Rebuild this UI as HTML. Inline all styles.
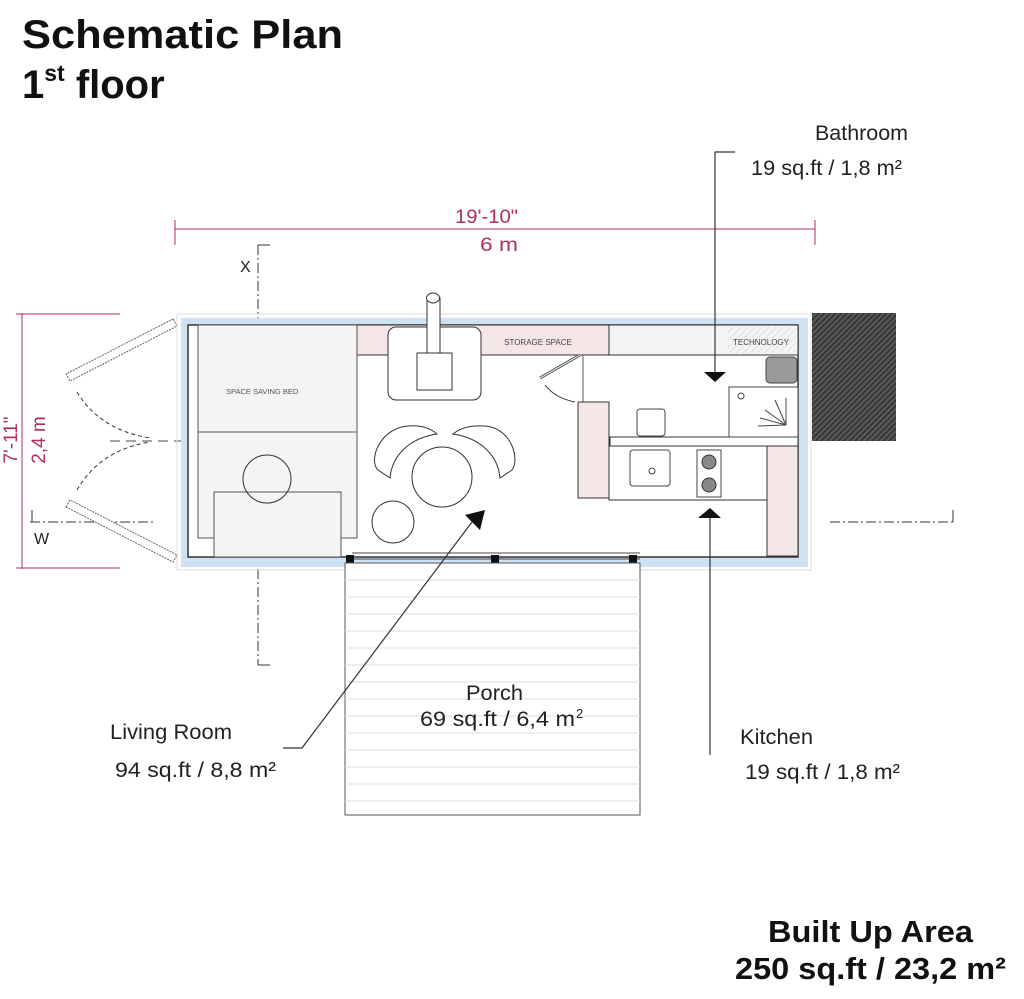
<!DOCTYPE html>
<html><head><style>
body{margin:0;background:#fff;}
svg{display:block;font-family:"Liberation Sans",Arial,sans-serif;}
</style></head><body>
<svg width="1024" height="999" viewBox="0 0 1024 999" xmlns="http://www.w3.org/2000/svg">
<defs>
<pattern id="h" width="4" height="4" patternUnits="userSpaceOnUse" patternTransform="rotate(45)"><rect width="4" height="4" fill="#555"/><line x1="0" y1="0" x2="0" y2="4" stroke="#222" stroke-width="2"/></pattern>
<pattern id="h2" width="5" height="5" patternUnits="userSpaceOnUse" patternTransform="rotate(45)"><line x1="0" y1="0" x2="0" y2="5" stroke="#ccc" stroke-width="1"/></pattern>
</defs>
<text x="22" y="48" font-size="40" font-weight="bold" fill="#111" textLength="321" lengthAdjust="spacingAndGlyphs">Schematic Plan</text>
<text x="22" y="98" font-size="40" font-weight="bold" fill="#111">1<tspan font-size="23" dy="-17">st</tspan><tspan dy="17"> floor</tspan></text>

<g stroke="#b0305a" stroke-width="1">
<line x1="175" y1="229" x2="815" y2="229"/>
<line x1="175" y1="220" x2="175" y2="245"/>
<line x1="815" y1="220" x2="815" y2="245"/>
<line x1="22" y1="313" x2="22" y2="569"/>
<line x1="16" y1="314" x2="120" y2="314"/>
<line x1="16" y1="568" x2="120" y2="568"/>
</g>
<text x="455" y="223" font-size="19" fill="#b0305a" textLength="63" lengthAdjust="spacingAndGlyphs">19'-10"</text>
<text x="480" y="251" font-size="19" fill="#b0305a" textLength="38" lengthAdjust="spacingAndGlyphs">6 m</text>
<text transform="translate(17,440) rotate(-90)" font-size="19" fill="#b0305a" text-anchor="middle">7'-11"</text>
<text transform="translate(45,440) rotate(-90)" font-size="19" fill="#b0305a" text-anchor="middle">2,4 m</text>

<g stroke="#333" stroke-width="1" stroke-dasharray="10,3,2,3" fill="none">
<line x1="258" y1="245" x2="258" y2="665"/>
<line x1="30" y1="522" x2="155" y2="522"/>
<line x1="830" y1="522" x2="955" y2="522"/>
<line x1="195" y1="355" x2="355" y2="355"/>
<line x1="615" y1="479" x2="798" y2="479"/>
</g>
<g stroke="#333" stroke-width="1" fill="none">
<line x1="258" y1="245" x2="270" y2="245"/>
<line x1="258" y1="665" x2="270" y2="665"/>
<line x1="32" y1="522" x2="32" y2="510"/>
<line x1="953" y1="522" x2="953" y2="510"/>
</g>
<text x="240" y="272" font-size="16" fill="#222">X</text>
<text x="34" y="544" font-size="16" fill="#222">W</text>
<line x1="110" y1="441" x2="780" y2="441" stroke="#444" stroke-dasharray="10,6"/>

<g fill="#fff" stroke="#666" stroke-width="1" stroke-dasharray="2,1">
<polygon points="173,319 177,326 70,381 66,374"/>
<polygon points="66,507 70,500 177,555 173,562"/>
</g>
<path d="M77,392 Q100,430 150,438" stroke="#333" fill="none" stroke-dasharray="4,3"/>
<path d="M77,490 Q100,450 150,442" stroke="#333" fill="none" stroke-dasharray="4,3"/>

<rect x="177" y="314" width="634" height="256" fill="none" stroke="#ddd"/>
<rect x="181" y="318" width="627" height="249" fill="#cfe2f3"/>
<rect x="188" y="325" width="610" height="232" fill="#fff" stroke="#333" stroke-width="1.5"/>
<rect x="357" y="325" width="252" height="30" fill="#f5e6e6" stroke="#333"/>
<rect x="609" y="325" width="189" height="30" fill="#f4f4f4" stroke="#333"/>
<rect x="728" y="327" width="68" height="26" fill="url(#h2)"/>
<text x="538" y="345" font-size="8" fill="#444" text-anchor="middle">STORAGE SPACE</text>
<text x="761" y="345" font-size="8" fill="#444" text-anchor="middle">TECHNOLOGY</text>
<rect x="198" y="325" width="159" height="213" fill="#f4f4f4" stroke="#555"/>
<line x1="198" y1="432" x2="357" y2="432" stroke="#555"/>
<rect x="214" y="492" width="127" height="65" fill="#f4f4f4" stroke="#555"/>
<text x="226" y="394" font-size="7.5" fill="#555">SPACE SAVING BED</text>
<circle cx="267" cy="479" r="24" fill="none" stroke="#333"/>
<rect x="388" y="327" width="93" height="73" rx="8" fill="#fff" stroke="#333"/>
<rect x="417" y="353" width="35" height="37" fill="#fff" stroke="#333"/>
<rect x="427" y="298" width="13" height="55" fill="#fff" stroke="#333"/>
<ellipse cx="433" cy="298" rx="6.5" ry="5" fill="#fff" stroke="#333"/>
<path d="M408,426 C380,428 368,460 378,470 L390,478 C392,455 410,438 437,434 C430,428 420,425 408,426Z" fill="#fff" stroke="#333"/>
<path d="M485,426 C512,428 520,460 512,470 L500,478 C498,455 480,438 453,434 C460,428 470,425 485,426Z" fill="#fff" stroke="#333"/>
<circle cx="442" cy="477" r="30" fill="#fff" stroke="#333"/>
<circle cx="393" cy="522" r="21" fill="none" stroke="#333"/>
<line x1="540" y1="378" x2="580" y2="355" stroke="#555" stroke-width="3"/>
<line x1="540" y1="378" x2="580" y2="355" stroke="#fff" stroke-width="1"/>
<path d="M545,385 Q555,398 575,402" stroke="#333" fill="none"/>
<line x1="583" y1="355" x2="583" y2="402" stroke="#555"/>
<rect x="578" y="402" width="31" height="96" fill="#f5e6e6" stroke="#333"/>
<rect x="610" y="437" width="188" height="9" fill="#fff" stroke="#333"/>
<rect x="766" y="357" width="31" height="26" rx="4" fill="#999" stroke="#444"/>
<rect x="729" y="387" width="69" height="50" fill="#fff" stroke="#444"/>
<circle cx="741" cy="396" r="3" fill="none" stroke="#444"/>
<g stroke="#444"><line x1="786" y1="425" x2="786" y2="398"/><line x1="786" y1="425" x2="775" y2="400"/><line x1="786" y1="425" x2="765" y2="410"/><line x1="786" y1="425" x2="760" y2="418"/><line x1="786" y1="425" x2="758" y2="426"/></g>
<rect x="637" y="409" width="28" height="27" rx="3" fill="#fff" stroke="#444"/>
<rect x="609" y="446" width="158" height="54" fill="#fff" stroke="#333"/>
<rect x="767" y="446" width="31" height="110" fill="#f5e6e6" stroke="#333"/>
<rect x="630" y="450" width="40" height="36" rx="3" fill="#fff" stroke="#444"/>
<circle cx="652" cy="471" r="3" fill="none" stroke="#444"/>
<rect x="697" y="450" width="24" height="47" fill="#fff" stroke="#444"/>
<circle cx="709" cy="462" r="7" fill="#888" stroke="#333"/>
<circle cx="709" cy="485" r="7" fill="#888" stroke="#333"/>
<rect x="812" y="313" width="84" height="128" fill="url(#h)"/>
<g stroke="#444" fill="none"><line x1="352" y1="553" x2="640" y2="553"/><line x1="352" y1="559" x2="640" y2="559"/></g>
<rect x="346" y="555" width="8" height="8" fill="#111"/>
<rect x="491" y="555" width="8" height="8" fill="#111"/>
<rect x="629" y="555" width="8" height="8" fill="#111"/>
<rect x="345" y="563" width="295" height="252" fill="#fff" stroke="#555"/>
<g stroke="#ddd">
<line x1="345" y1="580" x2="640" y2="580"/><line x1="345" y1="597" x2="640" y2="597"/><line x1="345" y1="614" x2="640" y2="614"/><line x1="345" y1="631" x2="640" y2="631"/><line x1="345" y1="648" x2="640" y2="648"/><line x1="345" y1="665" x2="640" y2="665"/><line x1="345" y1="682" x2="640" y2="682"/><line x1="345" y1="699" x2="640" y2="699"/><line x1="345" y1="716" x2="640" y2="716"/><line x1="345" y1="733" x2="640" y2="733"/><line x1="345" y1="750" x2="640" y2="750"/><line x1="345" y1="767" x2="640" y2="767"/><line x1="345" y1="784" x2="640" y2="784"/><line x1="345" y1="801" x2="640" y2="801"/>
</g>
<g stroke="#333" fill="none" stroke-width="1.2">
<polyline points="735,152 715,152 715,375"/>
<polyline points="710,755 710,512"/>
<polyline points="283,748 302,748 472,522"/>
</g>
<polygon points="704,372 726,372 715,382" fill="#111"/>
<polygon points="698,518 721,518 710,508" fill="#111"/>
<polygon points="465,515 485,510 480,530" fill="#111"/>

<text x="815" y="140" font-size="21" fill="#222" textLength="93" lengthAdjust="spacingAndGlyphs">Bathroom</text>
<text x="751" y="175" font-size="21" fill="#222" textLength="151" lengthAdjust="spacingAndGlyphs">19 sq.ft / 1,8 m²</text>
<text x="466" y="700" font-size="21" fill="#222" textLength="57" lengthAdjust="spacingAndGlyphs">Porch</text>
<text x="420" y="726" font-size="21" fill="#222" textLength="155" lengthAdjust="spacingAndGlyphs">69 sq.ft / 6,4 m</text>
<text x="576" y="718" font-size="13" fill="#222">2</text>
<text x="110" y="739" font-size="21" fill="#222" textLength="122" lengthAdjust="spacingAndGlyphs">Living Room</text>
<text x="115" y="777" font-size="21" fill="#222" textLength="161" lengthAdjust="spacingAndGlyphs">94 sq.ft / 8,8 m²</text>
<text x="740" y="744" font-size="21" fill="#222" textLength="73" lengthAdjust="spacingAndGlyphs">Kitchen</text>
<text x="745" y="779" font-size="21" fill="#222" textLength="155" lengthAdjust="spacingAndGlyphs">19 sq.ft / 1,8 m²</text>
<text x="768" y="942" font-size="31" font-weight="bold" fill="#111" textLength="205" lengthAdjust="spacingAndGlyphs">Built Up Area</text>
<text x="735" y="979" font-size="31" font-weight="bold" fill="#111" textLength="271" lengthAdjust="spacingAndGlyphs">250 sq.ft / 23,2 m²</text>
</svg>
</body></html>
